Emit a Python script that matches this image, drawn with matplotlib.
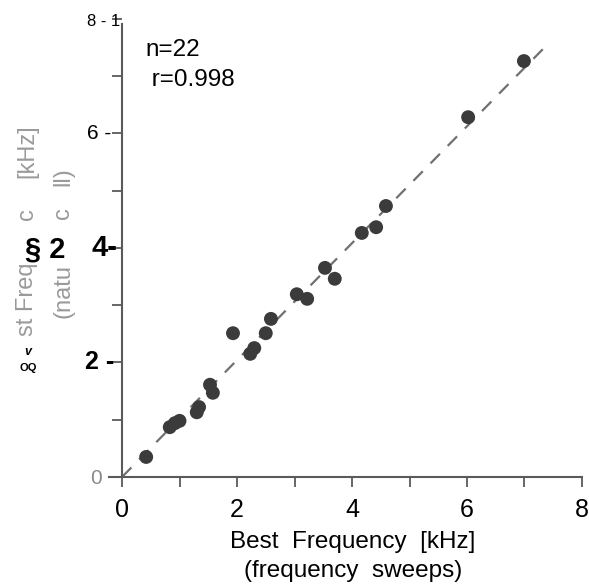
import numpy as np
import matplotlib.pyplot as plt

plt.rcParams['font.family'] = ['Liberation Sans', 'DejaVu Sans']

# Best frequency: frequency sweeps (x) vs natural call (y), kHz
bf_sweeps = [0.42, 0.83, 0.92, 1.00, 1.30, 1.34, 1.53, 1.58, 1.93, 2.23, 2.30,
             2.50, 2.59, 3.04, 3.22, 3.53, 3.70, 4.17, 4.42, 4.59, 6.02, 6.99]
bf_call = [0.35, 0.87, 0.94, 0.98, 1.13, 1.22, 1.61, 1.47, 2.51, 2.15, 2.25,
           2.51, 2.76, 3.19, 3.11, 3.65, 3.46, 4.26, 4.36, 4.73, 6.28, 7.26]
fit_x = [0.0, 7.4]
fit_y = [0.0, 7.55]
x_ticks = [0, 2, 4, 6, 8]

W, H = 589, 585


def px(x, y):
    """пиксели -> доли фигуры"""
    return x / W, 1 - y / H


fig = plt.figure(figsize=(W / 100, H / 100), dpi=100)
ax = fig.add_axes([0.1857, 0.1846, 0.8024, 0.7933])
ax.set_xlim(-0.22, 8.0)
ax.set_ylim(0, 8.1)

axis_col = '#5a5a5a'
for s in ['top', 'right']:
    ax.spines[s].set_visible(False)
ax.spines['left'].set_position(('data', 0))
ax.spines['left'].set_bounds(0, 7.9)
ax.spines['bottom'].set_bounds(-0.22, 8.0)
for s in ['left', 'bottom']:
    ax.spines[s].set_color(axis_col)
    ax.spines[s].set_linewidth(1.5)

ax.set_xticks(range(0, 9))
ax.set_yticks(range(0, 9))
ax.set_xticklabels([])
ax.set_yticklabels([])
ax.tick_params(direction='out', length=7, width=1.3, color=axis_col)

# Линия регрессии
ax.plot(fit_x, fit_y, color='#707070', lw=1.6, ls=(0, (6, 5)), zorder=2)

# Точки
ax.scatter(bf_sweeps, bf_call, s=100, color='#3b3b3b', edgecolors='none', zorder=3)

# Подписи оси x
for v in x_ticks:
    ax.text(v, -0.58, str(v), ha='center', va='center', fontsize=18)

fig.text(*px(353, 542), 'Best  Frequency  [kHz]', ha='center', va='center', fontsize=17.5)
fig.text(*px(353, 571), '(frequency  sweeps)', ha='center', va='center', fontsize=17.5)

# Подписи оси y (как в скане)
ytxt = [('8 - 1', 8, 12, 'normal', 120),
        ('6 -', 6, 15, 'normal', 111),
        ('4-', 4, 21, 'bold', 117),
        ('2 -', 2, 18, 'bold', 114)]
for t, v, fs, fw, xr in ytxt:
    y_px = 477 - v * 57.3 + (3 if v == 8 else 0)
    fig.text(*px(xr, y_px), t, ha='right', va='center', fontsize=fs,
             fontweight=fw, color='black')
fig.text(*px(96, 478), '0', ha='center', va='center', fontsize=15, color='#8a8a8a')

# Подпись y (серая, частично)
gray = '#9a9a9a'
for t, xc, yc in [('st Freq', 27, 299), ('c', 27, 214), ('[kHz]', 27, 151),
                  ('(natu', 63, 291), ('c', 63, 213), ('ll)', 63, 177)]:
    fig.text(*px(xc, yc), t, ha='center', va='center', rotation=90,
             fontsize=17, color=gray)
fig.text(*px(45, 250), '§ 2', ha='center', va='center', fontsize=21,
         fontweight='bold')
fig.text(*px(28, 352), 'v', ha='center', va='center', fontsize=9,
         fontweight='bold', style='italic')
fig.text(*px(28, 368), 'OQ', ha='center', va='center', fontsize=8,
         fontweight='bold')

# n и r
fig.text(*px(145, 50), 'n=22', ha='left', va='center', fontsize=17.5)
fig.text(*px(145, 80), ' r=0.998', ha='left', va='center', fontsize=17.5)

fig.savefig('out.png', dpi=100)
